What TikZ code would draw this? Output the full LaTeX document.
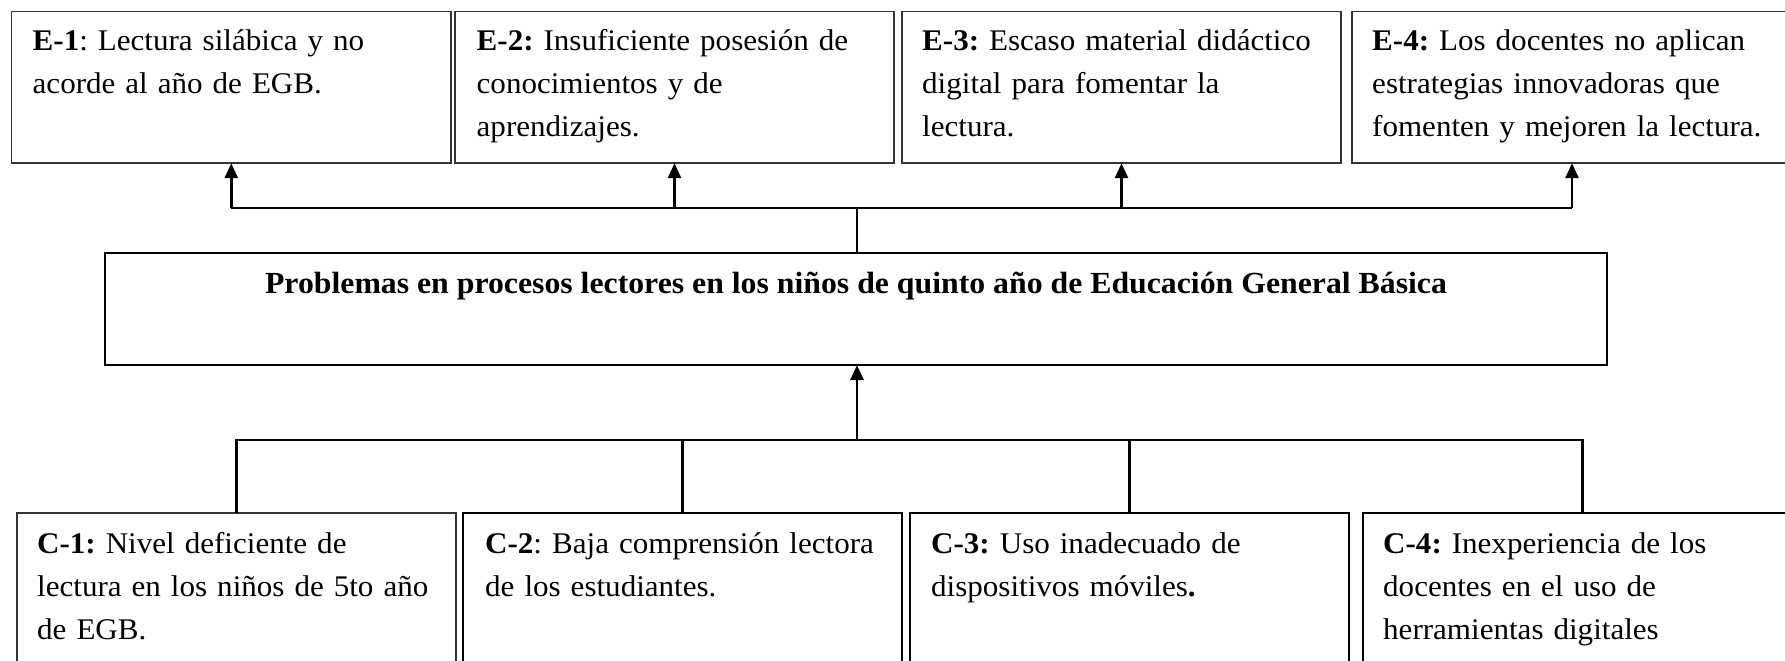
\documentclass[tikz,border=0pt]{standalone}
\usepackage{fontspec}
\setmainfont{Liberation Serif}[FakeStretch=1.035]
\usetikzlibrary{arrows.meta}
\frenchspacing
\begin{document}
\begin{tikzpicture}[x=1pt,y=-1pt,
 box/.style={draw, rectangle, inner sep=0pt, outer sep=0pt, anchor=north west},
 thinbox/.style={box, line width=1.6pt, draw=black!80},
 thickbox/.style={box, line width=2.6pt},
 txt/.style={anchor=base west, inner sep=0pt, align=left, text width=430pt, font=\fontsize{30}{43}\selectfont},
 ctxt/.style={anchor=base, inner sep=0pt, font=\fontsize{30.7}{43}\selectfont\bfseries},
 conn/.style={line width=2.6pt},
 arr/.style={conn, -{Triangle[length=15pt,width=13pt]}}]
\useasboundingbox (0,0) rectangle (1785,661);
% effect boxes
\node[thinbox, minimum width=439.5pt, minimum height=151.5pt] (e1) at (11.5,11.7) {};
\node[thinbox, minimum width=439pt, minimum height=151.5pt] (e2) at (455,11.7) {};
\node[thinbox, minimum width=439pt, minimum height=151.5pt] (e3) at (902,11.7) {};
\node[thinbox, minimum width=440pt, minimum height=151.5pt] (e4) at (1352,11.7) {};
% central problem
\node[thickbox, minimum width=1502pt, minimum height=112pt] (p) at (105,253) {};
% cause boxes
\node[thinbox, minimum width=439pt, minimum height=220pt] (c1) at (17,513) {};
\node[thickbox, minimum width=439pt, minimum height=220pt] (c2) at (463,513) {};
\node[thickbox, minimum width=439pt, minimum height=220pt] (c3) at (910,513) {};
\node[thickbox, minimum width=439pt, minimum height=220pt] (c4) at (1363,513) {};
% texts
\node[txt] (e1t) at (32.5,51) {\textbf{E-1}: Lectura silábica y no\\acorde al año de EGB.};
\node[txt] (e2t) at (476.5,51) {\textbf{E-2:} Insuficiente posesión de\\conocimientos y de\\aprendizajes.};
\node[txt] (e3t) at (922,51) {\textbf{E-3:} Escaso material didáctico\\digital para fomentar la\\lectura.};
\node[txt] (e4t) at (1372,51) {\textbf{E-4:} Los docentes no aplican\\estrategias innovadoras que\\fomenten y mejoren la lectura.};
\node[ctxt] (pt) at (856,293) {Problemas en procesos lectores en los niños de quinto año de Educación General Básica};
\node[txt] (c1t) at (37,553) {\textbf{C-1:} Nivel deficiente de\\lectura en los niños de 5to año\\de EGB.};
\node[txt] (c2t) at (485,553) {\textbf{C-2}: Baja comprensión lectora\\de los estudiantes.};
\node[txt] (c3t) at (931,553) {\textbf{C-3:} Uso inadecuado de\\dispositivos móviles\textbf{.}};
\node[txt] (c4t) at (1383,553) {\textbf{C-4:} Inexperiencia de los\\docentes en el uso de\\herramientas digitales};
% connectors
\coordinate (tb) at (857,208);
\coordinate (bb) at (857,440);
\draw[conn] (p.north -| tb) -- (tb);
\draw[conn] (e1.south |- tb) -- (e4.south |- tb);
\draw[arr] (e1.south |- tb) -- (e1.south);
\draw[arr] (e2.south |- tb) -- (e2.south);
\draw[arr] (e3.south |- tb) -- (e3.south);
\draw[arr] (e4.south |- tb) -- (e4.south);
\draw[conn] (c1.north) |- (bb) -| (c4.north);
\draw[conn] (c2.north) -- (c2.north |- bb);
\draw[conn] (c3.north) -- (c3.north |- bb);
\draw[arr] (bb) -- (p.south -| bb);
\end{tikzpicture}
\end{document}
